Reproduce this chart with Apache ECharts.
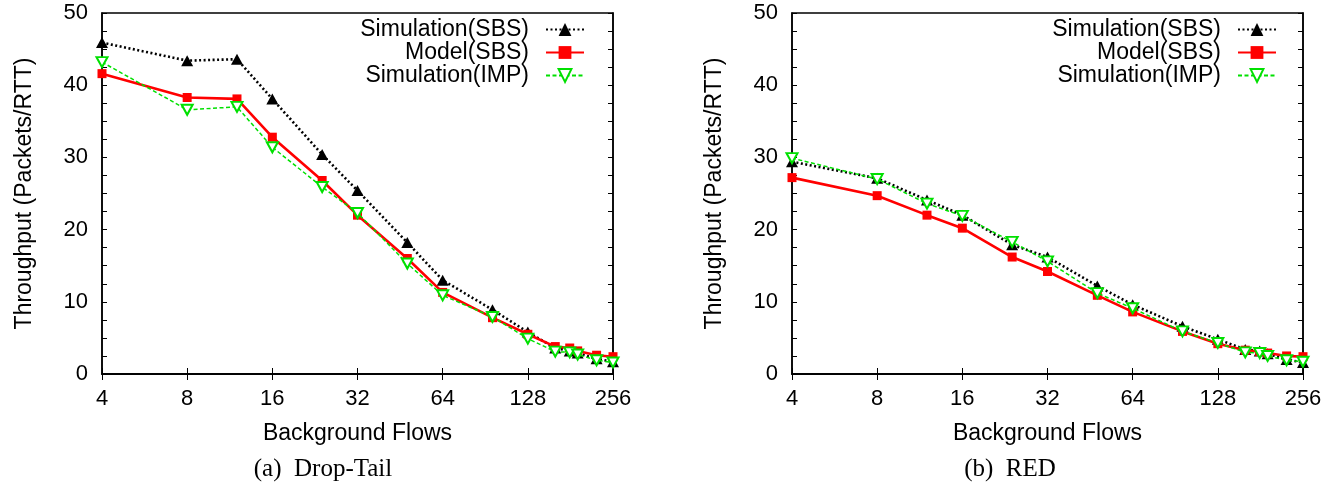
<!DOCTYPE html>
<html><head><meta charset="utf-8">
<script src="https://cdn.jsdelivr.net/npm/echarts@6/dist/echarts.min.js"></script>
<style>html,body{margin:0;padding:0;background:#fff}#c{width:1339px;height:483px}</style>
</head><body><div id="c"></div>
<script>
// Background flows (x values)
const flows = [4, 8, 12, 16, 24, 32, 48, 64, 96, 128, 160, 180, 192, 224, 256];
const xTicks = [4, 8, 16, 32, 64, 128, 256];
// (a) Drop-Tail
const dtSimSBS = [45.9, 43.4, 43.6, 38.1, 30.4, 25.4, 18.2, 13.0, 8.9, 5.8, 3.6, 3.2, 2.9, 2.1, 1.7];
const dtModelSBS = [41.6, 38.3, 38.1, 32.8, 26.8, 22.0, 16.0, 11.3, 7.8, 5.5, 3.8, 3.6, 3.2, 2.6, 2.4];
const dtSimIMP = [43.2, 36.6, 37.0, 31.4, 25.9, 22.3, 15.3, 10.9, 7.9, 4.9, 3.1, 3.0, 2.7, 1.9, 1.6];
// (b) RED
const redSimSBS = [29.4, 27.1, 24.1, 22.0, 17.9, 16.2, 12.2, 9.6, 6.6, 4.8, 3.4, 3.2, 2.8, 2.0, 1.6];
const redModelSBS = [27.2, 24.7, 22.0, 20.2, 16.2, 14.2, 10.9, 8.6, 5.9, 4.2, 3.3, 3.1, 2.9, 2.5, 2.4];
const redSimIMP = [29.9, 27.0, 23.6, 21.9, 18.3, 15.6, 11.2, 9.1, 5.9, 4.3, 3.0, 2.9, 2.5, 1.9, 1.7];

const seriesNames = ['Simulation(SBS)', 'Model(SBS)', 'Simulation(IMP)'];
const captions = ['(a)  Drop-Tail', '(b)  RED'];
const yTitle = 'Throughput (Packets/RTT)';
const xTitle = 'Background Flows';

const SANS = 'Liberation Sans, Arial, Helvetica, sans-serif';
const SERIF = 'Liberation Serif, Times New Roman, serif';
const GREEN = '#00e000';

const pair = ys => flows.map((x, i) => [x, ys[i]]);

const panels = [
  {left: 102, data: [dtSimSBS, dtModelSBS, dtSimIMP], legendRight: 754, capX: 323},
  {left: 792, data: [redSimSBS, redModelSBS, redSimIMP], legendRight: 62, capX: 1010}
];

const grid = [], xAxis = [], yAxis = [], series = [], legend = [], graphic = [];

panels.forEach((p, k) => {
  grid.push({left: p.left, top: 13, width: 511, height: 361, show: true,
    borderColor: '#000', borderWidth: 1.5, backgroundColor: 'transparent'});
  const xb = {type: 'log', logBase: 2, min: 4, max: 256, splitNumber: 6, gridIndex: k,
    axisLine: {show: true, lineStyle: {color: '#000', width: 1.5}},
    axisTick: {show: true, inside: true, length: 6, lineStyle: {color: '#000', width: 1}},
    splitLine: {show: false}, minorTick: {show: false}};
  xAxis.push(Object.assign({}, xb, {position: 'bottom',
    axisLabel: {show: true, color: '#000', fontFamily: SANS, fontSize: 22, margin: 14,
      formatter: v => (xTicks.indexOf(Math.round(v)) >= 0 ? String(Math.round(v)) : '')},
    name: xTitle, nameLocation: 'middle', nameGap: 48,
    nameTextStyle: {color: '#000', fontFamily: SANS, fontSize: 23}}));
  xAxis.push(Object.assign({}, xb, {position: 'top', axisLabel: {show: false}}));
  const yb = {type: 'value', min: 0, max: 50, interval: 10, gridIndex: k,
    axisLine: {show: true, lineStyle: {color: '#000', width: 1.5}},
    axisTick: {show: true, inside: true, length: 5, lineStyle: {color: '#000', width: 1}},
    minorTick: {show: true, splitNumber: 4, length: 5, lineStyle: {color: '#000', width: 1}},
    splitLine: {show: false}};
  yAxis.push(Object.assign({}, yb, {position: 'left',
    axisLabel: {show: true, color: '#000', fontFamily: SANS, fontSize: 22, margin: 14},
    name: yTitle, nameLocation: 'middle', nameGap: 66, nameRotate: 90,
    nameTextStyle: {color: '#000', fontFamily: SANS, fontSize: 23}}));
  yAxis.push(Object.assign({}, yb, {position: 'right', axisLabel: {show: false}}));

  const xi = k * 2, yi = k * 2;
  series.push({name: seriesNames[0], type: 'line', xAxisIndex: xi, yAxisIndex: yi,
    data: pair(p.data[0]), symbol: 'triangle', symbolSize: [12, 11],
    itemStyle: {color: '#000'}, lineStyle: {color: '#000', width: 2.6, type: [2, 2.5]}, z: 2});
  series.push({name: seriesNames[1], type: 'line', xAxisIndex: xi, yAxisIndex: yi,
    data: pair(p.data[1]), symbol: 'rect', symbolSize: 9,
    itemStyle: {color: '#ff0000'}, lineStyle: {color: '#ff0000', width: 2.6, type: 'solid'}, z: 3});
  series.push({name: seriesNames[2], type: 'line', xAxisIndex: xi, yAxisIndex: yi,
    data: pair(p.data[2]), symbol: 'emptyTriangle', symbolRotate: 180, symbolSize: [11, 10],
    itemStyle: {color: GREEN, borderColor: GREEN, borderWidth: 1.5},
    lineStyle: {color: GREEN, width: 1.5, type: [4, 2.5]}, z: 4});

  [18, 41, 64].forEach((t, j) => {
    legend.push({data: [seriesNames[j]], right: p.legendRight, top: t, orient: 'vertical',
      align: 'right', padding: 0, itemWidth: 38, itemHeight: 16, selectedMode: false,
      textStyle: {color: '#000', fontFamily: SANS, fontSize: 23, padding: [0, 12, 0, 0]}});
  });

  graphic.push({type: 'text', x: p.capX, y: 457, style: {text: captions[k],
    fontFamily: SERIF, fontSize: 25, fill: '#000', textAlign: 'center'}});
});

const chart = echarts.init(document.getElementById('c'), null, {renderer: 'canvas'});
chart.setOption({animation: false, backgroundColor: '#fff', grid, xAxis, yAxis, series, legend, graphic});
</script>
</body></html>
